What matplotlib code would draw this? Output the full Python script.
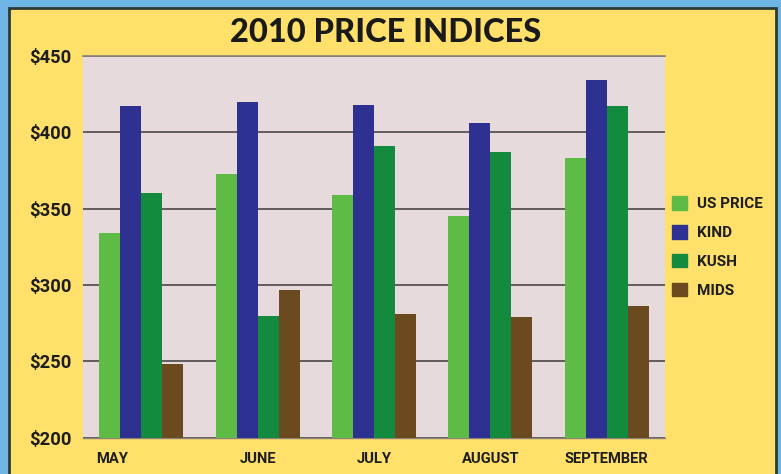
import matplotlib
matplotlib.use("Agg")
import matplotlib.pyplot as plt
import matplotlib.patches as mpatches
import matplotlib.transforms as mtransforms
import numpy as np

months = ["MAY", "JUNE", "JULY", "AUGUST", "SEPTEMBER"]
series_names = ["US PRICE", "KIND", "KUSH", "MIDS"]
us_price = [334, 373, 359, 345, 383]
kind = [417, 420, 418, 406, 434]
kush = [360, 280, 391, 387, 417]
mids = [248, 297, 281, 279, 286]
yticks = [200, 250, 300, 350, 400, 450]
ytick_labels = ["$200", "$250", "$300", "$350", "$400", "$450"]

colors = ["#5EBB46", "#2E3192", "#138A3E", "#6B4A1F"]
YELLOW = "#FEE06B"
PLOT_BG = "#E6DADC"
BLUE = "#6EB4E4"

cond = ["Roboto", "DejaVu Sans"]

fig = plt.figure(figsize=(7.81, 4.74), dpi=100)
fig.patch.set_facecolor(BLUE)
# yellow panel with dark frame
panel = mpatches.Rectangle((9 / 781, -0.05), (776 - 9) / 781, 1.05 - 8 / 474,
                           transform=fig.transFigure, facecolor=YELLOW,
                           edgecolor="#2b3a33", linewidth=2.0, zorder=0)
fig.patches.append(panel)

ax = fig.add_axes([83 / 781, 36.3 / 474, 582 / 781, 381.7 / 474])
ax.set_facecolor(PLOT_BG)
ax.set_zorder(1)

x = np.arange(len(months))
w = 0.18
data = [us_price, kind, kush, mids]
for i, (vals, c, name) in enumerate(zip(data, colors, series_names)):
    ax.bar(x + (i - 1.5) * w, vals, width=w, color=c, label=name, zorder=3)

ax.set_xlim(-0.5, len(months) - 0.5)
ax.set_ylim(200, 450)
ax.set_yticks(yticks)
ax.set_yticklabels(ytick_labels, family=cond, fontsize=13.2, fontweight="bold", color="#1e1e1e")
ax.set_xticks(x)
ax.set_xticklabels(months, family=cond, fontsize=10.6, fontweight="bold", color="#1e1e1e")
ax.tick_params(axis="y", length=0, pad=8.5)
ax.tick_params(axis="x", length=0, pad=10)
# shift MAY label slightly left as in reference
lbl = ax.get_xticklabels()[0]
lbl.set_transform(lbl.get_transform() + mtransforms.ScaledTranslation(-0.29, 0, fig.dpi_scale_trans))

ax.yaxis.grid(True, color="#3e3a3a", linewidth=1.1, zorder=1)
ax.set_axisbelow(True)
for s in ["left", "right"]:
    ax.spines[s].set_visible(False)
ax.spines["top"].set_color("#8d8478")
ax.spines["top"].set_linewidth(1.2)
ax.spines["bottom"].set_color("#8d8478")
ax.spines["bottom"].set_linewidth(1.0)

fig.text(386 / 781, 1 - 33 / 474, "2010 PRICE INDICES", ha="center", va="center",
         fontsize=23.5, fontweight=900, family=["Lato", "DejaVu Sans"], color="#1a1a1a")

handles = [mpatches.Patch(color=c) for c in colors]
leg = fig.legend(handles, series_names, loc="upper left",
                 bbox_to_anchor=(666 / 781, 1 - 190 / 474), frameon=False,
                 prop={"family": cond, "size": 11, "weight": "bold"},
                 handlelength=1.0, handleheight=1.0, handletextpad=0.65,
                 labelspacing=0.9, borderaxespad=0)
for t in leg.get_texts():
    t.set_color("#1e1e1e")

fig.savefig("out.png", dpi=100, facecolor=fig.get_facecolor())
